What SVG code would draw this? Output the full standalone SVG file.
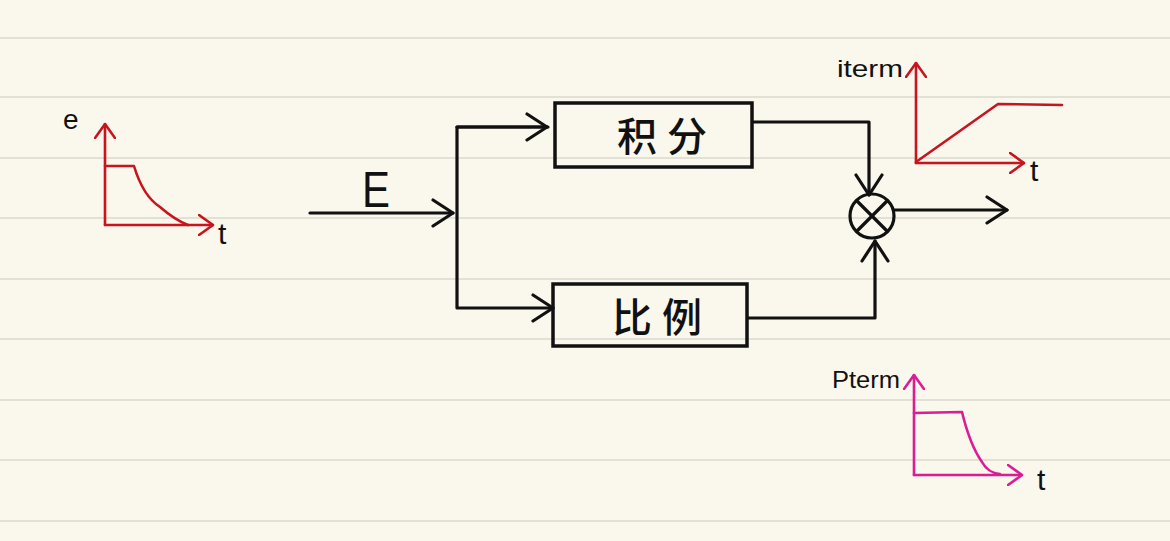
<svg xmlns="http://www.w3.org/2000/svg" width="1170" height="541" viewBox="0 0 1170 541">
<defs>
<style>
.rule{stroke:#e3e0d6;stroke-width:2}
.wire{fill:none;stroke:#111;stroke-width:3.2;stroke-linecap:round;stroke-linejoin:round}
.box{fill:none;stroke:#111;stroke-width:3.5}
.red{fill:none;stroke:#c8141e;stroke-width:2.6;stroke-linecap:round;stroke-linejoin:round}
.pink{fill:none;stroke:#dc1c95;stroke-width:2.6;stroke-linecap:round;stroke-linejoin:round}
.lbl{font-family:"Liberation Sans",sans-serif;fill:#111}
.cjk{font-family:"Noto Sans CJK SC",sans-serif;fill:#111;font-size:40px;font-weight:500}
</style>
<marker id="ab" viewBox="0 0 24 30" refX="22" refY="15" markerWidth="24" markerHeight="30" orient="auto" markerUnits="userSpaceOnUse">
<path d="M2,2 L22,15 L2,28" fill="none" stroke="#111" stroke-width="3.2" stroke-linecap="round" stroke-linejoin="round"/>
</marker>
<marker id="ar" viewBox="0 0 16 22" refX="15" refY="11" markerWidth="16" markerHeight="22" orient="auto" markerUnits="userSpaceOnUse">
<path d="M1,1 L15,11 L1,21" fill="none" stroke="#c8141e" stroke-width="2.6" stroke-linecap="round" stroke-linejoin="round"/>
</marker>
<marker id="ap" viewBox="0 0 16 22" refX="15" refY="11" markerWidth="16" markerHeight="22" orient="auto" markerUnits="userSpaceOnUse">
<path d="M1,1 L15,11 L1,21" fill="none" stroke="#dc1c95" stroke-width="2.6" stroke-linecap="round" stroke-linejoin="round"/>
</marker>
</defs>
<rect width="1170" height="541" fill="#faf7ec"/>
<g id="background">
<line class="rule" x1="0" y1="38" x2="1170" y2="38"/>
<line class="rule" x1="0" y1="97" x2="1170" y2="97"/>
<line class="rule" x1="0" y1="158" x2="1170" y2="158"/>
<line class="rule" x1="0" y1="218" x2="1170" y2="218"/>
<line class="rule" x1="0" y1="279" x2="1170" y2="279"/>
<line class="rule" x1="0" y1="339" x2="1170" y2="339"/>
<line class="rule" x1="0" y1="400" x2="1170" y2="400"/>
<line class="rule" x1="0" y1="460" x2="1170" y2="460"/>
<line class="rule" x1="0" y1="521" x2="1170" y2="521"/>
</g>
<g id="connectors">
<line class="wire" x1="310" y1="213" x2="453" y2="213" marker-end="url(#ab)"/>
<polyline class="wire" points="548,127 457,127 457,308 553,308" marker-end="url(#ab)"/>
<line class="wire" x1="457" y1="127" x2="547" y2="127" marker-end="url(#ab)"/>
<polyline class="wire" points="753,122 869,122 869,195" marker-end="url(#ab)"/>
<polyline class="wire" points="748,318 875,318 875,241" marker-end="url(#ab)"/>
<line class="wire" x1="894" y1="210" x2="1007" y2="210" marker-end="url(#ab)"/>
<text class="lbl" x="362" y="207" font-size="50" textLength="28" lengthAdjust="spacingAndGlyphs">E</text>
</g>
<g id="integral">
<rect class="box" x="555" y="103" width="197" height="64"/>
<text class="cjk" x="617" y="151" letter-spacing="10">积分</text>
</g>
<g id="proportional">
<rect class="box" x="553" y="284" width="194" height="62"/>
<text class="cjk" x="612" y="332" letter-spacing="10">比例</text>
</g>
<g id="sum">
<circle cx="872" cy="216" r="22" fill="none" stroke="#111" stroke-width="3.2"/>
<line class="wire" x1="857" y1="201" x2="887" y2="231"/>
<line class="wire" x1="887" y1="201" x2="857" y2="231"/>
</g>
<g id="e-graph">
<line class="red" x1="105" y1="225" x2="105" y2="124" marker-end="url(#ar)"/>
<line class="red" x1="105" y1="225" x2="213" y2="225" marker-end="url(#ar)"/>
<path class="red" d="M105,166 L134,166 Q143,196 160,207 Q175,220 188,225"/>
<text class="lbl" x="63" y="129" font-size="28">e</text>
<text class="lbl" x="218" y="244" font-size="30">t</text>
</g>
<g id="iterm-graph">
<line class="red" x1="916" y1="163" x2="916" y2="63" marker-end="url(#ar)"/>
<line class="red" x1="916" y1="163" x2="1024" y2="163" marker-end="url(#ar)"/>
<path class="red" d="M916,162 L998,104 L1062,105"/>
<text class="lbl" x="837" y="77" font-size="24" textLength="66" lengthAdjust="spacingAndGlyphs">iterm</text>
<text class="lbl" x="1030" y="181" font-size="30">t</text>
</g>
<g id="pterm-graph">
<line class="pink" x1="914" y1="475" x2="914" y2="375" marker-end="url(#ap)"/>
<line class="pink" x1="914" y1="475" x2="1022" y2="475" marker-end="url(#ap)"/>
<path class="pink" d="M914,413 L962,412 Q970,445 982,462 Q988,473 1000,474"/>
<text class="lbl" x="832" y="388" font-size="24" textLength="68" lengthAdjust="spacingAndGlyphs">Pterm</text>
<text class="lbl" x="1037" y="490" font-size="30">t</text>
</g>
</svg>
